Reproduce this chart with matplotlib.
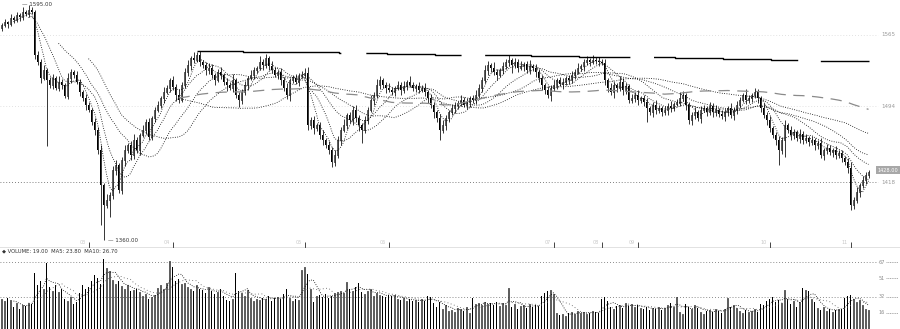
import matplotlib
matplotlib.use('Agg')
import matplotlib.pyplot as plt
import numpy as np
import pandas as pd

# daily closes (index points), 290 bars
closes = [
    1575, 1578, 1576, 1582, 1580, 1585, 1583, 1588, 1586, 1590,
    1588, 1545, 1538, 1522, 1530, 1520, 1515, 1522, 1512, 1518,
    1515, 1504, 1522, 1528, 1525, 1518, 1508, 1502, 1495, 1490,
    1478, 1470, 1450, 1415, 1395, 1400, 1405, 1430, 1435, 1410,
    1440, 1450, 1455, 1445, 1460, 1450, 1465, 1470, 1478, 1463,
    1482, 1490, 1495, 1502, 1508, 1512, 1520, 1513, 1505, 1500,
    1515, 1528, 1535, 1542, 1540, 1545, 1538, 1535, 1530, 1532,
    1525, 1520, 1528, 1525, 1518, 1515, 1512, 1520, 1505, 1500,
    1508, 1515, 1522, 1525, 1530, 1532, 1538, 1535, 1542, 1534,
    1530, 1525, 1528, 1520, 1512, 1505, 1520, 1522, 1518, 1524,
    1525, 1527, 1475, 1480, 1472, 1475, 1465, 1460, 1455, 1450,
    1438, 1445, 1460, 1470, 1475, 1485, 1480, 1490, 1482, 1475,
    1470, 1480, 1490, 1500, 1505, 1515, 1520, 1515, 1512, 1510,
    1508, 1512, 1515, 1510, 1514, 1518, 1515, 1512, 1514, 1510,
    1512, 1508, 1502, 1495, 1488, 1482, 1470, 1475, 1482, 1488,
    1492, 1495, 1497, 1500, 1495, 1498, 1502, 1500, 1505, 1512,
    1520, 1530, 1535, 1532, 1528, 1525, 1530, 1534, 1538, 1540,
    1535, 1538, 1532, 1534, 1536, 1530, 1534, 1532, 1528, 1522,
    1515, 1510, 1505, 1512, 1515, 1520, 1516, 1518, 1522, 1520,
    1525, 1528, 1532, 1534, 1538, 1540, 1538, 1540, 1539, 1538,
    1537, 1520, 1512, 1508, 1515, 1512, 1518, 1510, 1514, 1500,
    1502, 1505, 1500, 1502, 1498, 1492, 1488, 1495, 1490, 1492,
    1488, 1490, 1494, 1492, 1496, 1498, 1502, 1505, 1495, 1480,
    1485, 1488, 1482, 1490, 1492, 1488, 1494, 1488, 1490, 1486,
    1484, 1488, 1492, 1485, 1490, 1495, 1500, 1505, 1500, 1502,
    1505, 1508, 1502, 1492, 1485, 1480, 1472, 1465, 1460, 1450,
    1460, 1475, 1470, 1465, 1468, 1462, 1466, 1460, 1462, 1458,
    1460, 1455, 1457, 1445, 1450, 1452, 1448, 1450, 1445, 1447,
    1442, 1438, 1432, 1395, 1400, 1408, 1415, 1420, 1425, 1428,
]
first_open = 1572

# upper / lower shadows above and below the body
wick_up = [
    2, 3, 1, 4, 2, 3, 2, 5, 2, 5,
    3, 2, 4, 3, 5, 2, 3, 4, 2, 6,
    3, 2, 5, 3, 2, 4, 3, 2, 4, 3,
    2, 4, 3, 5, 2, 6, 3, 4, 5, 2,
    3, 5, 2, 4, 6, 3, 2, 5, 3, 4,
    2, 3, 4, 2, 5, 3, 2, 4, 3, 6,
    3, 4, 5, 2, 6, 3, 4, 2, 3, 5,
    4, 2, 3, 5, 2, 4, 3, 6, 2, 3,
    3, 4, 2, 5, 3, 2, 6, 3, 4, 2,
    5, 3, 2, 4, 3, 5, 2, 3, 4, 3,
    4, 5, 6, 3, 4, 2, 3, 5, 2, 4,
    3, 5, 4, 3, 6, 2, 3, 4, 5, 3,
    2, 4, 3, 5, 3, 6, 4, 2, 3, 5,
    3, 2, 4, 3, 5, 2, 6, 3, 2, 4,
    3, 5, 2, 4, 3, 2, 4, 5, 3, 2,
    4, 3, 2, 5, 3, 4, 2, 3, 5, 4,
    3, 5, 4, 2, 6, 3, 2, 4, 3, 5,
    2, 4, 3, 5, 2, 3, 6, 2, 4, 3,
    3, 2, 4, 3, 5, 2, 3, 4, 2, 3,
    4, 3, 5, 2, 3, 4, 2, 5, 3, 4,
    3, 4, 2, 5, 3, 2, 6, 4, 3, 2,
    4, 3, 5, 2, 3, 4, 2, 3, 5, 3,
    2, 4, 3, 5, 2, 3, 6, 4, 2, 3,
    3, 5, 2, 4, 3, 2, 4, 3, 5, 2,
    4, 3, 2, 5, 3, 4, 3, 2, 6, 3,
    2, 4, 3, 2, 5, 3, 4, 2, 3, 4,
    3, 5, 2, 4, 3, 2, 5, 3, 4, 2,
    4, 2, 3, 5, 2, 4, 3, 2, 4, 3,
    3, 2, 4, 6, 3, 5, 2, 4, 3, 2,
]
wick_dn = [
    3, 2, 4, 2, 3, 2, 4, 3, 2, 3,
    2, 4, 3, 5, 2, 66, 3, 4, 2, 3,
    4, 2, 3, 5, 3, 2, 4, 3, 5, 2,
    3, 5, 4, 40, 35, 3, 17, 4, 5, 3,
    4, 6, 3, 5, 4, 3, 5, 2, 4, 3,
    3, 4, 2, 3, 5, 2, 4, 3, 6, 3,
    2, 3, 4, 5, 3, 2, 4, 3, 5, 4,
    3, 5, 2, 4, 3, 6, 2, 4, 3, 7,
    4, 3, 5, 2, 4, 3, 2, 5, 3, 4,
    3, 2, 4, 5, 3, 4, 6, 3, 2, 4,
    2, 3, 5, 4, 6, 3, 4, 5, 3, 4,
    5, 4, 3, 5, 2, 4, 3, 5, 4, 6,
    13, 3, 4, 2, 5, 3, 4, 3, 5, 2,
    3, 4, 2, 5, 3, 4, 2, 3, 4, 3,
    2, 4, 5, 3, 6, 4, 10, 3, 5, 4,
    3, 5, 4, 3, 2, 4, 5, 3, 4, 3,
    4, 3, 5, 4, 3, 5, 2, 4, 3, 4,
    8, 3, 4, 2, 5, 3, 4, 3, 5, 4,
    5, 4, 3, 6, 3, 4, 2, 5, 3, 4,
    3, 4, 2, 3, 5, 3, 4, 2, 3, 4,
    2, 5, 4, 3, 6, 4, 3, 5, 4, 3,
    3, 4, 5, 3, 4, 14, 3, 5, 4, 3,
    4, 3, 5, 4, 3, 2, 4, 3, 5, 4,
    5, 4, 3, 5, 2, 4, 3, 5, 4, 3,
    3, 5, 4, 3, 5, 4, 3, 2, 4, 3,
    4, 3, 5, 4, 3, 5, 4, 3, 5, 15,
    4, 17, 3, 5, 4, 3, 5, 4, 3, 4,
    3, 5, 4, 3, 5, 4, 3, 5, 4, 3,
    4, 3, 5, 5, 4, 3, 5, 3, 4, 3,
]

# volume (万手)
volume = [
    30, 28, 31, 29, 22, 26, 20, 24, 23, 26,
    25, 56, 44, 48, 40, 66, 42, 38, 44, 37,
    40, 30, 28, 32, 25, 27, 36, 44, 40, 42,
    48, 54, 51, 45, 70, 61, 58, 49, 45, 48,
    43, 40, 44, 38, 39, 40, 37, 33, 35, 30,
    32, 34, 41, 44, 40, 46, 68, 62, 48, 50,
    45, 46, 42, 40, 38, 44, 40, 39, 36, 42,
    38, 35, 37, 40, 33, 29, 28, 30, 56, 38,
    36, 33, 39, 31, 28, 30, 29, 31, 30, 33,
    28, 31, 32, 30, 35, 40, 31, 28, 30, 29,
    59, 62, 55, 40, 27, 33, 34, 32, 35, 31,
    33, 36, 37, 38, 36, 47, 40, 38, 42, 46,
    37, 35, 38, 40, 33, 36, 34, 33, 32, 34,
    33, 34, 30, 29, 31, 28, 30, 28, 29, 27,
    30, 28, 33, 32, 26, 22, 27, 20, 24, 18,
    19, 17, 21, 20, 18, 22, 16, 31, 25, 26,
    24, 27, 25, 26, 24, 27, 23, 26, 24, 41,
    22, 25, 20, 23, 24, 21, 25, 22, 24, 23,
    33, 36, 38, 39, 35, 16, 14, 15, 13, 16,
    17, 15, 18, 16, 17, 15, 16, 18, 17, 16,
    30, 32, 28, 22, 20, 23, 24, 21, 26, 23,
    25, 22, 24, 21, 20, 22, 19, 21, 20, 22,
    19, 21, 24, 26, 22, 32, 17, 15, 25, 22,
    20, 24, 21, 17, 15, 18, 19, 17, 20, 18,
    16, 20, 31, 22, 24, 21, 18, 16, 19, 17,
    18, 20, 17, 25, 24, 28, 30, 32, 27, 29,
    26, 39, 30, 25, 28, 22, 27, 41, 39, 38,
    30, 27, 21, 19, 22, 18, 20, 17, 19, 20,
    20, 31, 33, 34, 30, 27, 29, 24, 20, 19,
]

month_ticks = [29, 57, 101, 129, 184, 200, 212, 256, 283]
month_labels = ['03', '04', '05', '06', '07', '08', '09', '10', '11']

# slow line near the top, one level per 16 bars from bar 65
long_line_start = 65
long_line_levels = [1549.5, 1548, 1548.3, 1546.7, 1545.7, 1545.5, 1545,
                    1544, 1543.3, 1542.8, 1542.3, 1541, 1540, 1539]

price_grid = [1565, 1494, 1418]
vol_ticks = [16, 32, 51, 67]
vol_grid = [32, 67]

close = np.array(closes, dtype=float)
open_ = np.r_[first_open, close[:-1]]
high = np.maximum(open_, close) + np.array(wick_up)
low = np.minimum(open_, close) - np.array(wick_dn)
vol = np.array(volume, dtype=float)
N = len(close)
x = np.arange(N)
up = close >= open_

fig = plt.figure(figsize=(9, 3.29), dpi=100)
ax = fig.add_axes([0, 81 / 329, 1, 248 / 329])
axv = fig.add_axes([0, 0, 1, 81 / 329])

XMAX = 299.5
ax.set_xlim(-0.5, XMAX)
ax.set_ylim(1352, 1600)
axv.set_xlim(-0.5, XMAX)
axv.set_ylim(0, 81)

# grid
for g in price_grid:
    c = '#555555' if g == price_grid[-1] else '#d8d8d8'
    ax.plot([-0.5, 292], [g, g], color=c, lw=0.6, ls=(0, (1, 2.5)), zorder=1)
for g in vol_grid:
    axv.plot([-0.5, 292], [g, g], color='#666666', lw=0.6, ls=(0, (1, 2.5)), zorder=1)

# candles
ax.vlines(x, low, high, color='k', lw=0.55, zorder=2)
ax.bar(x[up], np.maximum((close - open_)[up], 0.5), bottom=open_[up], width=0.62,
       facecolor='white', edgecolor='k', linewidth=0.45, zorder=3)
ax.bar(x[~up], (open_ - close)[~up], bottom=close[~up], width=0.62,
       color='k', linewidth=0, zorder=3)

# moving averages
s = pd.Series(close)
for n in (5, 10, 20, 30, 60):
    ax.plot(x, s.rolling(n).mean(), color='k', lw=0.6, ls=(0, (1, 1.8)), zorder=4)
ax.plot(x, s.rolling(120, min_periods=60).mean(), color='#8a8a8a', lw=0.9,
        ls=(0, (9, 6)), zorder=4)

lx = np.arange(long_line_start, N)
idx = np.minimum((lx - long_line_start) // 16, len(long_line_levels) - 1)
lv = np.array(long_line_levels)[idx]
ax.step(lx, lv, where='mid', color='k', lw=1.0, zorder=4,
        dashes=[105, 18, 70, 17, 106, 17, 106, 17, 40, 40])

# max / min markers
imax, imin = int(np.argmax(high)), int(np.argmin(low))
ax.text(imax - 2, high[imax] + 1, '— %.2f' % high[imax], fontsize=4, color='#333333',
        va='center', ha='left')
ax.text(imin + 1.5, low[imin], '— %.2f' % low[imin], fontsize=4, color='#333333',
        va='center', ha='left')

# right side price labels
for g in price_grid:
    ax.text(295.5, g, '%d' % g, fontsize=4, color='#9a9a9a', va='center', ha='center')
ax.text(295.5, close[-1] + 2, '%.2f' % close[-1], fontsize=3.6, color='white',
        va='center', ha='center',
        bbox=dict(boxstyle='square,pad=0.35', facecolor='#a8a8a8', edgecolor='none'))

# axes decoration
for sp in ('top', 'left', 'right'):
    ax.spines[sp].set_visible(False)
ax.spines['bottom'].set_color('#6f6f6f')
ax.spines['bottom'].set_linewidth(1.0)
ax.set_yticks([])
ax.set_xticks(month_ticks)
ax.tick_params(axis='x', direction='in', length=4, width=0.7, color='#444444',
               labelbottom=False)
for t, lab in zip(month_ticks, month_labels):
    ax.text(t - 0.8, 1355, lab, fontsize=3.5, color='#c8c8c8', ha='right', va='bottom')

# volume panel
axv.bar(x[up], vol[up], width=0.62, facecolor='white', edgecolor='k', linewidth=0.45, zorder=3)
axv.bar(x[~up], vol[~up], width=0.62, color='k', linewidth=0, zorder=3)
sv = pd.Series(vol)
vma5 = sv.rolling(5).mean()
vma10 = sv.rolling(10).mean()
axv.plot(x, vma5, color='k', lw=0.6, ls=(0, (1, 1.8)), zorder=4)
axv.plot(x, vma10, color='#555555', lw=0.6, ls=(0, (1, 3)), zorder=4)

axv.text(0.2, 78.5, '◆ VOLUME: %.2f  MA5: %.2f  MA10: %.2f' % (vol[-1], vma5.iloc[-1], vma10.iloc[-1]),
         fontsize=3.8, color='#333333', va='center', ha='left')
for v in vol_ticks:
    axv.text(294.5, v, '%d' % v, fontsize=3.6, color='#8a8a8a', va='center', ha='right')
    axv.plot([294.7, 298.8], [v, v], color='#8a8a8a', lw=0.5, ls=(0, (1.5, 1)))

for sp in axv.spines.values():
    sp.set_visible(False)
axv.set_xticks([])
axv.set_yticks([])

fig.savefig('out.png', dpi=100, facecolor='white')
